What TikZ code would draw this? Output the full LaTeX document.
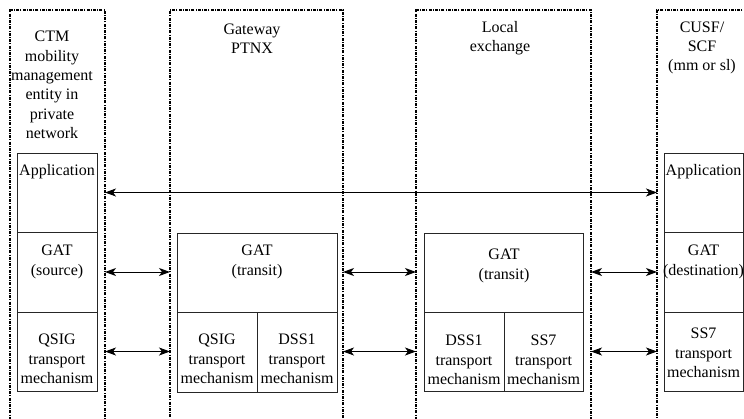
\documentclass[tikz,border=0pt]{standalone}
\usepackage{fontspec}
\setmainfont{Liberation Serif}
\usetikzlibrary{arrows.meta}
\begin{document}
\begin{tikzpicture}[x=1pt,y=-1pt,
  entity/.style={draw, line width=1.4pt, dash pattern=on 3pt off 1.2pt on 1pt off 1.2pt,
                 inner sep=0, outer sep=0, anchor=north west, minimum height=440},
  box/.style={draw, line width=1pt, black!85, inner sep=0, outer sep=0, anchor=north west},
  txt/.style={align=center, inner sep=0, font=\fontsize{16}{19.3}\selectfont},
  link/.style={line width=1pt, {Stealth[length=11pt,width=8pt,inset=3pt]}-{Stealth[length=11pt,width=8pt,inset=3pt]}}
]
\useasboundingbox (0,0) rectangle (744,418);
\clip (0,0) rectangle (744,418);
\fill[white] (0,0) rectangle (744,418);

% entities
\node[entity, minimum width=95] (ctm) at (10,10) {};
\node[entity, minimum width=173] (gw) at (170,10) {};
\node[entity, minimum width=175] (lx) at (416,10) {};
\node[entity, minimum width=100] (cusf) at (657,10) {};

\node[txt] (ctmT) at (52,85) {CTM\\mobility\\management\\entity in\\private\\network};
\node[txt] (gwT) at (252,39) {Gateway\\PTNX};
\node[txt] (lxT) at (500,38) {Local\\exchange};
\node[txt] (cusfT) at (702,48) {CUSF/\\SCF\\(mm or sl)};

% left column
\node[box, minimum width=80, minimum height=79] (appL) at (17,153) {};
\node[box, minimum width=80, minimum height=80] (gatL) at (17,232) {};
\node[box, minimum width=80, minimum height=79] (qsigL) at (17,312) {};
\node[txt] (appLT) at (57,172) {Application};
\node[txt] (gatLT) at (57,262) {GAT\\(source)};
\node[txt] (qsigLT) at (57,359) {QSIG\\transport\\mechanism};

% gateway
\node[box, minimum width=160, minimum height=79] (gatG) at (177,233) {};
\node[box, minimum width=80, minimum height=80] (qsigG) at (177,312) {};
\node[box, minimum width=80, minimum height=80] (dssG) at (257,312) {};
\node[txt] (gatGT) at (257,262) {GAT\\(transit)};
\node[txt] (qsigGT) at (217,359) {QSIG\\transport\\mechanism};
\node[txt] (dssGT) at (297,359) {DSS1\\transport\\mechanism};

% local exchange
\node[box, minimum width=159, minimum height=79] (gatX) at (424,233) {};
\node[box, minimum width=80, minimum height=79] (dssX) at (424,312) {};
\node[box, minimum width=79, minimum height=79] (ss7X) at (504,312) {};
\node[txt] (gatXT) at (504,266) {GAT\\(transit)};
\node[txt] (dssXT) at (464,360) {DSS1\\transport\\mechanism};
\node[txt] (ss7XT) at (543.5,360) {SS7\\transport\\mechanism};

% right column
\node[box, minimum width=79, minimum height=79] (appR) at (664,153) {};
\node[box, minimum width=79, minimum height=80] (gatR) at (664,232) {};
\node[box, minimum width=79, minimum height=79] (ss7R) at (664,312) {};
\node[txt] (appRT) at (703.5,172) {Application};
\node[txt] (gatRT) at (703.5,262) {GAT\\(destination)};
\node[txt] (ss7RT) at (703.5,353) {SS7\\transport\\mechanism};

% connectors
\draw[link] (ctm.east |- appL.center) -- (cusf.west |- appL.center);
\draw[link] (ctm.east |- gatL.center) -- (gw.west |- gatL.center);
\draw[link] (gw.east |- gatL.center) -- (lx.west |- gatL.center);
\draw[link] (lx.east |- gatL.center) -- (cusf.west |- gatL.center);
\draw[link] (ctm.east |- qsigL.center) -- (gw.west |- qsigL.center);
\draw[link] (gw.east |- qsigL.center) -- (lx.west |- qsigL.center);
\draw[link] (lx.east |- qsigL.center) -- (cusf.west |- qsigL.center);
\end{tikzpicture}
\end{document}
